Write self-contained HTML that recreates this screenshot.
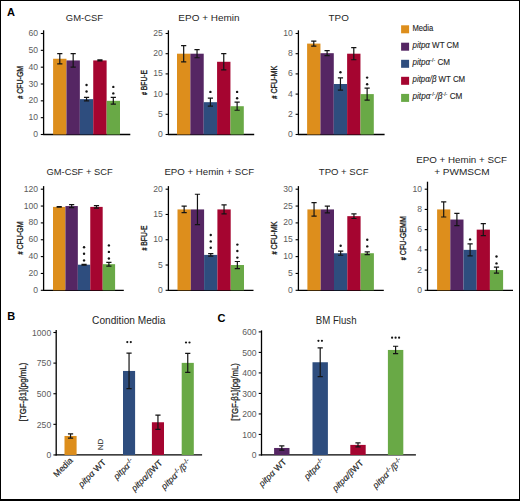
<!DOCTYPE html><html><head><meta charset="utf-8"><style>html,body{margin:0;padding:0;background:#fff;width:520px;height:501px;overflow:hidden}svg{display:block}text{font-family:"Liberation Sans",sans-serif}</style></head><body>
<svg width="520" height="501" viewBox="0 0 520 501">
<rect x="0" y="0" width="520" height="501" fill="#fff"/>
<text x="7" y="15.6" font-size="11" font-weight="bold" fill="#000">A</text>
<text x="7.3" y="320.2" font-size="11" font-weight="bold" fill="#000">B</text>
<text x="217.5" y="322" font-size="11" font-weight="bold" fill="#000">C</text>
<text x="65.85" y="21.1" font-size="9.9" fill="#262626" textLength="37.25" lengthAdjust="spacingAndGlyphs">GM-CSF</text>
<text x="178.35" y="21.1" font-size="9.9" fill="#262626" textLength="61.2" lengthAdjust="spacingAndGlyphs">EPO + Hemin</text>
<text x="328.6" y="21.1" font-size="9.9" fill="#262626" textLength="20.3" lengthAdjust="spacingAndGlyphs">TPO</text>
<text x="46.5" y="174.6" font-size="9.9" fill="#262626" textLength="66.1" lengthAdjust="spacingAndGlyphs">GM-CSF + SCF</text>
<text x="164.4" y="174.6" font-size="9.9" fill="#262626" textLength="89.7" lengthAdjust="spacingAndGlyphs">EPO + Hemin + SCF</text>
<text x="318.8" y="174.6" font-size="9.9" fill="#262626" textLength="49.7" lengthAdjust="spacingAndGlyphs">TPO + SCF</text>
<text x="416.2" y="163" font-size="9.9" fill="#262626" textLength="90.8" lengthAdjust="spacingAndGlyphs">EPO + Hemin + SCF</text>
<text x="434.2" y="174.5" font-size="9.9" fill="#262626" textLength="55.5" lengthAdjust="spacingAndGlyphs">+ PWMSCM</text>
<line x1="43.6" y1="30.3" x2="43.6" y2="135" stroke="#000" stroke-width="1.3"/>
<line x1="43.1" y1="134.5" x2="130.3" y2="134.5" stroke="#000" stroke-width="1.3"/>
<line x1="40.8" y1="134.5" x2="43.6" y2="134.5" stroke="#000" stroke-width="1.1"/>
<text x="38.1" y="137.05" text-anchor="end" font-size="8.6" fill="#5c5c5c">0</text>
<line x1="40.8" y1="117.67" x2="43.6" y2="117.67" stroke="#000" stroke-width="1.1"/>
<text x="38.1" y="120.22" text-anchor="end" font-size="8.6" fill="#5c5c5c">10</text>
<line x1="40.8" y1="100.83" x2="43.6" y2="100.83" stroke="#000" stroke-width="1.1"/>
<text x="38.1" y="103.38" text-anchor="end" font-size="8.6" fill="#5c5c5c">20</text>
<line x1="40.8" y1="84" x2="43.6" y2="84" stroke="#000" stroke-width="1.1"/>
<text x="38.1" y="86.55" text-anchor="end" font-size="8.6" fill="#5c5c5c">30</text>
<line x1="40.8" y1="67.17" x2="43.6" y2="67.17" stroke="#000" stroke-width="1.1"/>
<text x="38.1" y="69.72" text-anchor="end" font-size="8.6" fill="#5c5c5c">40</text>
<line x1="40.8" y1="50.33" x2="43.6" y2="50.33" stroke="#000" stroke-width="1.1"/>
<text x="38.1" y="52.88" text-anchor="end" font-size="8.6" fill="#5c5c5c">50</text>
<line x1="40.8" y1="33.5" x2="43.6" y2="33.5" stroke="#000" stroke-width="1.1"/>
<text x="38.1" y="36.05" text-anchor="end" font-size="8.6" fill="#5c5c5c">60</text>
<rect x="53.1" y="58.75" width="13.38" height="75.75" fill="#DD8E1C"/>
<rect x="66.48" y="60.43" width="13.38" height="74.07" fill="#552663"/>
<rect x="79.86" y="99.15" width="13.38" height="35.35" fill="#2E4D7E"/>
<rect x="93.24" y="60.43" width="13.38" height="74.07" fill="#A50530"/>
<rect x="106.62" y="100.83" width="13.38" height="33.67" fill="#69A946"/>
<path d="M59.79 53.7V63.8M57.19 53.7H62.39M57.19 63.8H62.39" stroke="#141414" stroke-width="1.2" fill="none"/>
<path d="M73.17 53.7V67.17M70.57 53.7H75.77M70.57 67.17H75.77" stroke="#141414" stroke-width="1.2" fill="none"/>
<path d="M86.55 97.47V100.83M83.95 97.47H89.15M83.95 100.83H89.15" stroke="#141414" stroke-width="1.2" fill="none"/>
<circle cx="86.55" cy="85" r="1.2" fill="#151515"/>
<circle cx="86.55" cy="91.5" r="1.2" fill="#151515"/>
<path d="M99.93 59.93V60.94M97.33 59.93H102.53M97.33 60.94H102.53" stroke="#141414" stroke-width="1.2" fill="none"/>
<path d="M113.31 97.47V104.2M110.71 97.47H115.91M110.71 104.2H115.91" stroke="#141414" stroke-width="1.2" fill="none"/>
<circle cx="113.31" cy="86.9" r="1.2" fill="#151515"/>
<circle cx="113.31" cy="93.4" r="1.2" fill="#151515"/>
<text x="0" y="0" transform="translate(20,82.3) rotate(-90)" text-anchor="middle" font-size="8.8" fill="#222" stroke="#222" stroke-width="0.35" textLength="33" lengthAdjust="spacingAndGlyphs" dominant-baseline="central"><tspan font-size="6.8">#</tspan> CFU-GM</text>
<line x1="168.4" y1="30.3" x2="168.4" y2="135" stroke="#000" stroke-width="1.3"/>
<line x1="167.9" y1="134.5" x2="254.2" y2="134.5" stroke="#000" stroke-width="1.3"/>
<line x1="165.6" y1="134.5" x2="168.4" y2="134.5" stroke="#000" stroke-width="1.1"/>
<text x="162.9" y="137.05" text-anchor="end" font-size="8.6" fill="#5c5c5c">0</text>
<line x1="165.6" y1="114.3" x2="168.4" y2="114.3" stroke="#000" stroke-width="1.1"/>
<text x="162.9" y="116.85" text-anchor="end" font-size="8.6" fill="#5c5c5c">5</text>
<line x1="165.6" y1="94.1" x2="168.4" y2="94.1" stroke="#000" stroke-width="1.1"/>
<text x="162.9" y="96.65" text-anchor="end" font-size="8.6" fill="#5c5c5c">10</text>
<line x1="165.6" y1="73.9" x2="168.4" y2="73.9" stroke="#000" stroke-width="1.1"/>
<text x="162.9" y="76.45" text-anchor="end" font-size="8.6" fill="#5c5c5c">15</text>
<line x1="165.6" y1="53.7" x2="168.4" y2="53.7" stroke="#000" stroke-width="1.1"/>
<text x="162.9" y="56.25" text-anchor="end" font-size="8.6" fill="#5c5c5c">20</text>
<line x1="165.6" y1="33.5" x2="168.4" y2="33.5" stroke="#000" stroke-width="1.1"/>
<text x="162.9" y="36.05" text-anchor="end" font-size="8.6" fill="#5c5c5c">25</text>
<rect x="177" y="53.7" width="13.36" height="80.8" fill="#DD8E1C"/>
<rect x="190.36" y="53.7" width="13.36" height="80.8" fill="#552663"/>
<rect x="203.72" y="102.18" width="13.36" height="32.32" fill="#2E4D7E"/>
<rect x="217.08" y="61.78" width="13.36" height="72.72" fill="#A50530"/>
<rect x="230.44" y="106.22" width="13.36" height="28.28" fill="#69A946"/>
<path d="M183.68 45.62V61.78M181.08 45.62H186.28M181.08 61.78H186.28" stroke="#141414" stroke-width="1.2" fill="none"/>
<path d="M197.04 49.66V57.74M194.44 49.66H199.64M194.44 57.74H199.64" stroke="#141414" stroke-width="1.2" fill="none"/>
<path d="M210.4 98.14V106.22M207.8 98.14H213M207.8 106.22H213" stroke="#141414" stroke-width="1.2" fill="none"/>
<circle cx="210.4" cy="91.9" r="1.2" fill="#151515"/>
<path d="M223.76 53.7V69.86M221.16 53.7H226.36M221.16 69.86H226.36" stroke="#141414" stroke-width="1.2" fill="none"/>
<path d="M237.12 102.18V110.26M234.52 102.18H239.72M234.52 110.26H239.72" stroke="#141414" stroke-width="1.2" fill="none"/>
<circle cx="237.12" cy="91.9" r="1.2" fill="#151515"/>
<circle cx="237.12" cy="98.3" r="1.2" fill="#151515"/>
<text x="0" y="0" transform="translate(144.3,82.5) rotate(-90)" text-anchor="middle" font-size="8.8" fill="#222" stroke="#222" stroke-width="0.35" textLength="25" lengthAdjust="spacingAndGlyphs" dominant-baseline="central"><tspan font-size="6.8">#</tspan> BFU-E</text>
<line x1="298.4" y1="30.3" x2="298.4" y2="135" stroke="#000" stroke-width="1.3"/>
<line x1="297.9" y1="134.5" x2="384.6" y2="134.5" stroke="#000" stroke-width="1.3"/>
<line x1="295.6" y1="134.5" x2="298.4" y2="134.5" stroke="#000" stroke-width="1.1"/>
<text x="292.9" y="137.05" text-anchor="end" font-size="8.6" fill="#5c5c5c">0</text>
<line x1="295.6" y1="114.3" x2="298.4" y2="114.3" stroke="#000" stroke-width="1.1"/>
<text x="292.9" y="116.85" text-anchor="end" font-size="8.6" fill="#5c5c5c">2</text>
<line x1="295.6" y1="94.1" x2="298.4" y2="94.1" stroke="#000" stroke-width="1.1"/>
<text x="292.9" y="96.65" text-anchor="end" font-size="8.6" fill="#5c5c5c">4</text>
<line x1="295.6" y1="73.9" x2="298.4" y2="73.9" stroke="#000" stroke-width="1.1"/>
<text x="292.9" y="76.45" text-anchor="end" font-size="8.6" fill="#5c5c5c">6</text>
<line x1="295.6" y1="53.7" x2="298.4" y2="53.7" stroke="#000" stroke-width="1.1"/>
<text x="292.9" y="56.25" text-anchor="end" font-size="8.6" fill="#5c5c5c">8</text>
<line x1="295.6" y1="33.5" x2="298.4" y2="33.5" stroke="#000" stroke-width="1.1"/>
<text x="292.9" y="36.05" text-anchor="end" font-size="8.6" fill="#5c5c5c">10</text>
<rect x="307.1" y="43.6" width="13.34" height="90.9" fill="#DD8E1C"/>
<rect x="320.44" y="53.19" width="13.34" height="81.31" fill="#552663"/>
<rect x="333.78" y="84" width="13.34" height="50.5" fill="#2E4D7E"/>
<rect x="347.12" y="53.7" width="13.34" height="80.8" fill="#A50530"/>
<rect x="360.46" y="94.1" width="13.34" height="40.4" fill="#69A946"/>
<path d="M313.77 41.08V46.13M311.17 41.08H316.37M311.17 46.13H316.37" stroke="#141414" stroke-width="1.2" fill="none"/>
<path d="M327.11 50.67V55.72M324.51 50.67H329.71M324.51 55.72H329.71" stroke="#141414" stroke-width="1.2" fill="none"/>
<path d="M340.45 77.94V90.06M337.85 77.94H343.05M337.85 90.06H343.05" stroke="#141414" stroke-width="1.2" fill="none"/>
<circle cx="340.45" cy="72.3" r="1.2" fill="#151515"/>
<path d="M353.79 47.64V59.76M351.19 47.64H356.39M351.19 59.76H356.39" stroke="#141414" stroke-width="1.2" fill="none"/>
<path d="M367.13 88.04V100.16M364.53 88.04H369.73M364.53 100.16H369.73" stroke="#141414" stroke-width="1.2" fill="none"/>
<circle cx="367.13" cy="77.6" r="1.2" fill="#151515"/>
<circle cx="367.13" cy="84.3" r="1.2" fill="#151515"/>
<text x="0" y="0" transform="translate(274.3,82.2) rotate(-90)" text-anchor="middle" font-size="8.8" fill="#222" stroke="#222" stroke-width="0.35" textLength="33" lengthAdjust="spacingAndGlyphs" dominant-baseline="central"><tspan font-size="6.8">#</tspan> CFU-MK</text>
<line x1="43.6" y1="186.1" x2="43.6" y2="290.8" stroke="#000" stroke-width="1.3"/>
<line x1="43.1" y1="290.3" x2="123.8" y2="290.3" stroke="#000" stroke-width="1.3"/>
<line x1="40.8" y1="290.3" x2="43.6" y2="290.3" stroke="#000" stroke-width="1.1"/>
<text x="38.1" y="292.85" text-anchor="end" font-size="8.6" fill="#5c5c5c">0</text>
<line x1="40.8" y1="273.45" x2="43.6" y2="273.45" stroke="#000" stroke-width="1.1"/>
<text x="38.1" y="276" text-anchor="end" font-size="8.6" fill="#5c5c5c">20</text>
<line x1="40.8" y1="256.6" x2="43.6" y2="256.6" stroke="#000" stroke-width="1.1"/>
<text x="38.1" y="259.15" text-anchor="end" font-size="8.6" fill="#5c5c5c">40</text>
<line x1="40.8" y1="239.75" x2="43.6" y2="239.75" stroke="#000" stroke-width="1.1"/>
<text x="38.1" y="242.3" text-anchor="end" font-size="8.6" fill="#5c5c5c">60</text>
<line x1="40.8" y1="222.9" x2="43.6" y2="222.9" stroke="#000" stroke-width="1.1"/>
<text x="38.1" y="225.45" text-anchor="end" font-size="8.6" fill="#5c5c5c">80</text>
<line x1="40.8" y1="206.05" x2="43.6" y2="206.05" stroke="#000" stroke-width="1.1"/>
<text x="38.1" y="208.6" text-anchor="end" font-size="8.6" fill="#5c5c5c">100</text>
<line x1="40.8" y1="189.2" x2="43.6" y2="189.2" stroke="#000" stroke-width="1.1"/>
<text x="38.1" y="191.75" text-anchor="end" font-size="8.6" fill="#5c5c5c">120</text>
<rect x="53" y="206.89" width="12.42" height="83.41" fill="#DD8E1C"/>
<rect x="65.42" y="206.05" width="12.42" height="84.25" fill="#552663"/>
<rect x="77.84" y="264.69" width="12.42" height="25.61" fill="#2E4D7E"/>
<rect x="90.26" y="206.89" width="12.42" height="83.41" fill="#A50530"/>
<rect x="102.68" y="264.18" width="12.42" height="26.12" fill="#69A946"/>
<path d="M59.21 206.64V207.15M56.61 206.64H61.81M56.61 207.15H61.81" stroke="#141414" stroke-width="1.2" fill="none"/>
<path d="M71.63 204.53V207.57M69.03 204.53H74.23M69.03 207.57H74.23" stroke="#141414" stroke-width="1.2" fill="none"/>
<path d="M84.05 264.27V265.11M81.45 264.27H86.65M81.45 265.11H86.65" stroke="#141414" stroke-width="1.2" fill="none"/>
<circle cx="84.05" cy="247.2" r="1.2" fill="#151515"/>
<circle cx="84.05" cy="253.8" r="1.2" fill="#151515"/>
<circle cx="84.05" cy="260.4" r="1.2" fill="#151515"/>
<path d="M96.47 205.63V208.16M93.87 205.63H99.07M93.87 208.16H99.07" stroke="#141414" stroke-width="1.2" fill="none"/>
<path d="M108.89 262.33V266.04M106.29 262.33H111.49M106.29 266.04H111.49" stroke="#141414" stroke-width="1.2" fill="none"/>
<circle cx="108.89" cy="245.4" r="1.2" fill="#151515"/>
<circle cx="108.89" cy="251.9" r="1.2" fill="#151515"/>
<circle cx="108.89" cy="258.5" r="1.2" fill="#151515"/>
<text x="0" y="0" transform="translate(20,238) rotate(-90)" text-anchor="middle" font-size="8.8" fill="#222" stroke="#222" stroke-width="0.35" textLength="33" lengthAdjust="spacingAndGlyphs" dominant-baseline="central"><tspan font-size="6.8">#</tspan> CFU-GM</text>
<line x1="168.4" y1="186.1" x2="168.4" y2="290.8" stroke="#000" stroke-width="1.3"/>
<line x1="167.9" y1="290.3" x2="253.5" y2="290.3" stroke="#000" stroke-width="1.3"/>
<line x1="165.6" y1="290.3" x2="168.4" y2="290.3" stroke="#000" stroke-width="1.1"/>
<text x="162.9" y="292.85" text-anchor="end" font-size="8.6" fill="#5c5c5c">0</text>
<line x1="165.6" y1="265.02" x2="168.4" y2="265.02" stroke="#000" stroke-width="1.1"/>
<text x="162.9" y="267.57" text-anchor="end" font-size="8.6" fill="#5c5c5c">5</text>
<line x1="165.6" y1="239.75" x2="168.4" y2="239.75" stroke="#000" stroke-width="1.1"/>
<text x="162.9" y="242.3" text-anchor="end" font-size="8.6" fill="#5c5c5c">10</text>
<line x1="165.6" y1="214.47" x2="168.4" y2="214.47" stroke="#000" stroke-width="1.1"/>
<text x="162.9" y="217.03" text-anchor="end" font-size="8.6" fill="#5c5c5c">15</text>
<line x1="165.6" y1="189.2" x2="168.4" y2="189.2" stroke="#000" stroke-width="1.1"/>
<text x="162.9" y="191.75" text-anchor="end" font-size="8.6" fill="#5c5c5c">20</text>
<rect x="177.5" y="209.42" width="13.3" height="80.88" fill="#DD8E1C"/>
<rect x="190.8" y="209.42" width="13.3" height="80.88" fill="#552663"/>
<rect x="204.1" y="254.91" width="13.3" height="35.39" fill="#2E4D7E"/>
<rect x="217.4" y="209.42" width="13.3" height="80.88" fill="#A50530"/>
<rect x="230.7" y="265.02" width="13.3" height="25.28" fill="#69A946"/>
<path d="M184.15 206.13V212.71M181.55 206.13H186.75M181.55 212.71H186.75" stroke="#141414" stroke-width="1.2" fill="none"/>
<path d="M197.45 194.25V224.58M194.85 194.25H200.05M194.85 224.58H200.05" stroke="#141414" stroke-width="1.2" fill="none"/>
<path d="M210.75 253.65V256.18M208.15 253.65H213.35M208.15 256.18H213.35" stroke="#141414" stroke-width="1.2" fill="none"/>
<circle cx="210.75" cy="235" r="1.2" fill="#151515"/>
<circle cx="210.75" cy="241.4" r="1.2" fill="#151515"/>
<circle cx="210.75" cy="247.8" r="1.2" fill="#151515"/>
<path d="M224.05 204.87V213.97M221.45 204.87H226.65M221.45 213.97H226.65" stroke="#141414" stroke-width="1.2" fill="none"/>
<path d="M237.35 261.49V268.56M234.75 261.49H239.95M234.75 268.56H239.95" stroke="#141414" stroke-width="1.2" fill="none"/>
<circle cx="237.35" cy="244.6" r="1.2" fill="#151515"/>
<circle cx="237.35" cy="251" r="1.2" fill="#151515"/>
<circle cx="237.35" cy="257.6" r="1.2" fill="#151515"/>
<text x="0" y="0" transform="translate(144.3,238) rotate(-90)" text-anchor="middle" font-size="8.8" fill="#222" stroke="#222" stroke-width="0.35" textLength="25" lengthAdjust="spacingAndGlyphs" dominant-baseline="central"><tspan font-size="6.8">#</tspan> BFU-E</text>
<line x1="298.4" y1="186.1" x2="298.4" y2="290.8" stroke="#000" stroke-width="1.3"/>
<line x1="297.9" y1="290.3" x2="383.8" y2="290.3" stroke="#000" stroke-width="1.3"/>
<line x1="295.6" y1="290.3" x2="298.4" y2="290.3" stroke="#000" stroke-width="1.1"/>
<text x="292.9" y="292.85" text-anchor="end" font-size="8.6" fill="#5c5c5c">0</text>
<line x1="295.6" y1="273.45" x2="298.4" y2="273.45" stroke="#000" stroke-width="1.1"/>
<text x="292.9" y="276" text-anchor="end" font-size="8.6" fill="#5c5c5c">5</text>
<line x1="295.6" y1="256.6" x2="298.4" y2="256.6" stroke="#000" stroke-width="1.1"/>
<text x="292.9" y="259.15" text-anchor="end" font-size="8.6" fill="#5c5c5c">10</text>
<line x1="295.6" y1="239.75" x2="298.4" y2="239.75" stroke="#000" stroke-width="1.1"/>
<text x="292.9" y="242.3" text-anchor="end" font-size="8.6" fill="#5c5c5c">15</text>
<line x1="295.6" y1="222.9" x2="298.4" y2="222.9" stroke="#000" stroke-width="1.1"/>
<text x="292.9" y="225.45" text-anchor="end" font-size="8.6" fill="#5c5c5c">20</text>
<line x1="295.6" y1="206.05" x2="298.4" y2="206.05" stroke="#000" stroke-width="1.1"/>
<text x="292.9" y="208.6" text-anchor="end" font-size="8.6" fill="#5c5c5c">25</text>
<line x1="295.6" y1="189.2" x2="298.4" y2="189.2" stroke="#000" stroke-width="1.1"/>
<text x="292.9" y="191.75" text-anchor="end" font-size="8.6" fill="#5c5c5c">30</text>
<rect x="307.4" y="209.42" width="13.3" height="80.88" fill="#DD8E1C"/>
<rect x="320.7" y="209.42" width="13.3" height="80.88" fill="#552663"/>
<rect x="334" y="253.23" width="13.3" height="37.07" fill="#2E4D7E"/>
<rect x="347.3" y="216.16" width="13.3" height="74.14" fill="#A50530"/>
<rect x="360.6" y="253.23" width="13.3" height="37.07" fill="#69A946"/>
<path d="M314.05 202.68V216.16M311.45 202.68H316.65M311.45 216.16H316.65" stroke="#141414" stroke-width="1.2" fill="none"/>
<path d="M327.35 206.05V212.79M324.75 206.05H329.95M324.75 212.79H329.95" stroke="#141414" stroke-width="1.2" fill="none"/>
<path d="M340.65 251.21V255.25M338.05 251.21H343.25M338.05 255.25H343.25" stroke="#141414" stroke-width="1.2" fill="none"/>
<circle cx="340.65" cy="245.8" r="1.2" fill="#151515"/>
<path d="M353.95 213.8V218.52M351.35 213.8H356.55M351.35 218.52H356.55" stroke="#141414" stroke-width="1.2" fill="none"/>
<path d="M367.25 251.88V254.58M364.65 251.88H369.85M364.65 254.58H369.85" stroke="#141414" stroke-width="1.2" fill="none"/>
<circle cx="367.25" cy="239.7" r="1.2" fill="#151515"/>
<circle cx="367.25" cy="246.4" r="1.2" fill="#151515"/>
<text x="0" y="0" transform="translate(274.3,238) rotate(-90)" text-anchor="middle" font-size="8.8" fill="#222" stroke="#222" stroke-width="0.35" textLength="33" lengthAdjust="spacingAndGlyphs" dominant-baseline="central"><tspan font-size="6.8">#</tspan> CFU-MK</text>
<line x1="427.5" y1="181.7" x2="427.5" y2="290.8" stroke="#000" stroke-width="1.3"/>
<line x1="427" y1="290.3" x2="513" y2="290.3" stroke="#000" stroke-width="1.3"/>
<line x1="424.7" y1="290.3" x2="427.5" y2="290.3" stroke="#000" stroke-width="1.1"/>
<text x="422" y="292.85" text-anchor="end" font-size="8.6" fill="#5c5c5c">0</text>
<line x1="424.7" y1="270.08" x2="427.5" y2="270.08" stroke="#000" stroke-width="1.1"/>
<text x="422" y="272.63" text-anchor="end" font-size="8.6" fill="#5c5c5c">2</text>
<line x1="424.7" y1="249.86" x2="427.5" y2="249.86" stroke="#000" stroke-width="1.1"/>
<text x="422" y="252.41" text-anchor="end" font-size="8.6" fill="#5c5c5c">4</text>
<line x1="424.7" y1="229.64" x2="427.5" y2="229.64" stroke="#000" stroke-width="1.1"/>
<text x="422" y="232.19" text-anchor="end" font-size="8.6" fill="#5c5c5c">6</text>
<line x1="424.7" y1="209.42" x2="427.5" y2="209.42" stroke="#000" stroke-width="1.1"/>
<text x="422" y="211.97" text-anchor="end" font-size="8.6" fill="#5c5c5c">8</text>
<line x1="424.7" y1="189.2" x2="427.5" y2="189.2" stroke="#000" stroke-width="1.1"/>
<text x="422" y="191.75" text-anchor="end" font-size="8.6" fill="#5c5c5c">10</text>
<rect x="437.1" y="209.42" width="13.2" height="80.88" fill="#DD8E1C"/>
<rect x="450.3" y="219.53" width="13.2" height="70.77" fill="#552663"/>
<rect x="463.5" y="249.86" width="13.2" height="40.44" fill="#2E4D7E"/>
<rect x="476.7" y="229.64" width="13.2" height="60.66" fill="#A50530"/>
<rect x="489.9" y="270.08" width="13.2" height="20.22" fill="#69A946"/>
<path d="M443.7 201.84V217M441.1 201.84H446.3M441.1 217H446.3" stroke="#141414" stroke-width="1.2" fill="none"/>
<path d="M456.9 213.46V225.6M454.3 213.46H459.5M454.3 225.6H459.5" stroke="#141414" stroke-width="1.2" fill="none"/>
<path d="M470.1 243.79V255.93M467.5 243.79H472.7M467.5 255.93H472.7" stroke="#141414" stroke-width="1.2" fill="none"/>
<circle cx="470.1" cy="239.4" r="1.2" fill="#151515"/>
<path d="M483.3 223.57V235.71M480.7 223.57H485.9M480.7 235.71H485.9" stroke="#141414" stroke-width="1.2" fill="none"/>
<path d="M496.5 267.05V273.11M493.9 267.05H499.1M493.9 273.11H499.1" stroke="#141414" stroke-width="1.2" fill="none"/>
<circle cx="496.5" cy="256.5" r="1.2" fill="#151515"/>
<circle cx="496.5" cy="263.4" r="1.2" fill="#151515"/>
<text x="0" y="0" transform="translate(403.4,238.2) rotate(-90)" text-anchor="middle" font-size="8.8" fill="#222" stroke="#222" stroke-width="0.35" textLength="44" lengthAdjust="spacingAndGlyphs" dominant-baseline="central"><tspan font-size="6.8">#</tspan> CFU-GEMM</text>
<rect x="401.1" y="25.3" width="8" height="8" fill="#DD8E1C"/>
<text x="412.5" y="31.3" font-size="8.6" fill="#1e1e1e" stroke="#1e1e1e" stroke-width="0.12" textLength="20.8" lengthAdjust="spacingAndGlyphs">Media</text>
<rect x="401.1" y="42.7" width="8" height="8" fill="#552663"/>
<text x="412.5" y="48" font-size="8.6" fill="#1e1e1e" stroke="#1e1e1e" stroke-width="0.12" textLength="46.5" lengthAdjust="spacingAndGlyphs"><tspan font-style="italic">pitpα</tspan> WT CM</text>
<rect x="401.1" y="59.8" width="8" height="8" fill="#2E4D7E"/>
<text x="412.5" y="65.1" font-size="8.6" fill="#1e1e1e" stroke="#1e1e1e" stroke-width="0.12" textLength="37.5" lengthAdjust="spacingAndGlyphs"><tspan font-style="italic">pitpα</tspan><tspan font-size="5.6" baseline-shift="3.4">-/-</tspan> CM</text>
<rect x="401.1" y="76.8" width="8" height="8" fill="#A50530"/>
<text x="412.5" y="82.1" font-size="8.6" fill="#1e1e1e" stroke="#1e1e1e" stroke-width="0.12" textLength="52.7" lengthAdjust="spacingAndGlyphs"><tspan font-style="italic">pitpα/β</tspan> WT CM</text>
<rect x="401.1" y="93.9" width="8" height="8" fill="#69A946"/>
<text x="412.5" y="99.2" font-size="8.6" fill="#1e1e1e" stroke="#1e1e1e" stroke-width="0.12" textLength="49.9" lengthAdjust="spacingAndGlyphs"><tspan font-style="italic">pitpα</tspan><tspan font-size="5.6" baseline-shift="3.4">-/-</tspan><tspan font-style="italic">/β</tspan><tspan font-size="5.6" baseline-shift="3.4">-/-</tspan> CM</text>
<text x="92.1" y="323.6" font-size="10.2" fill="#262626" textLength="73.3" lengthAdjust="spacingAndGlyphs">Condition Media</text>
<text x="315.8" y="323.5" font-size="10.2" fill="#262626" textLength="40.7" lengthAdjust="spacingAndGlyphs">BM Flush</text>
<line x1="56.2" y1="330" x2="56.2" y2="455.45" stroke="#000" stroke-width="1.3"/>
<line x1="55.7" y1="454.95" x2="202.1" y2="454.95" stroke="#000" stroke-width="1.3"/>
<line x1="53.4" y1="454.95" x2="56.2" y2="454.95" stroke="#000" stroke-width="1.1"/>
<text x="51.2" y="458.25" text-anchor="end" font-size="8.6" fill="#5c5c5c">0</text>
<line x1="53.4" y1="424.34" x2="56.2" y2="424.34" stroke="#000" stroke-width="1.1"/>
<text x="51.2" y="427.64" text-anchor="end" font-size="8.6" fill="#5c5c5c">250</text>
<line x1="53.4" y1="393.73" x2="56.2" y2="393.73" stroke="#000" stroke-width="1.1"/>
<text x="51.2" y="397.03" text-anchor="end" font-size="8.6" fill="#5c5c5c">500</text>
<line x1="53.4" y1="363.11" x2="56.2" y2="363.11" stroke="#000" stroke-width="1.1"/>
<text x="51.2" y="366.41" text-anchor="end" font-size="8.6" fill="#5c5c5c">750</text>
<line x1="53.4" y1="332.5" x2="56.2" y2="332.5" stroke="#000" stroke-width="1.1"/>
<text x="51.2" y="335.8" text-anchor="end" font-size="8.6" fill="#5c5c5c">1000</text>
<rect x="64.5" y="435.97" width="12.1" height="18.98" fill="#DD8E1C"/>
<rect x="123" y="370.95" width="12.1" height="84" fill="#2E4D7E"/>
<rect x="151.9" y="422.26" width="12.1" height="32.69" fill="#A50530"/>
<rect x="181.7" y="362.87" width="12.1" height="92.08" fill="#69A946"/>
<path d="M70.55 433.89V438.05M67.95 433.89H73.15M67.95 438.05H73.15" stroke="#141414" stroke-width="1.2" fill="none"/>
<path d="M129.05 353.19V388.7M126.45 353.19H131.65M126.45 388.7H131.65" stroke="#141414" stroke-width="1.2" fill="none"/>
<circle cx="127.3" cy="342.1" r="1.1" fill="#151515"/>
<circle cx="130.8" cy="342.1" r="1.1" fill="#151515"/>
<path d="M157.95 415.15V429.36M155.35 415.15H160.55M155.35 429.36H160.55" stroke="#141414" stroke-width="1.2" fill="none"/>
<path d="M187.75 353.32V372.42M185.15 353.32H190.35M185.15 372.42H190.35" stroke="#141414" stroke-width="1.2" fill="none"/>
<circle cx="186" cy="342.5" r="1.1" fill="#151515"/>
<circle cx="189.5" cy="342.5" r="1.1" fill="#151515"/>
<text x="0" y="0" transform="translate(22.4,392) rotate(-90)" text-anchor="middle" font-size="9.6" fill="#222" stroke="#222" stroke-width="0.3" textLength="58.6" lengthAdjust="spacingAndGlyphs" dominant-baseline="central">[TGF-β1](pg/mL)</text>
<line x1="261.5" y1="330.4" x2="261.5" y2="455.45" stroke="#000" stroke-width="1.3"/>
<line x1="261" y1="454.95" x2="415.9" y2="454.95" stroke="#000" stroke-width="1.3"/>
<line x1="258.7" y1="454.95" x2="261.5" y2="454.95" stroke="#000" stroke-width="1.1"/>
<text x="256.5" y="458.25" text-anchor="end" font-size="8.6" fill="#5c5c5c">0</text>
<line x1="258.7" y1="434.44" x2="261.5" y2="434.44" stroke="#000" stroke-width="1.1"/>
<text x="256.5" y="437.74" text-anchor="end" font-size="8.6" fill="#5c5c5c">100</text>
<line x1="258.7" y1="413.93" x2="261.5" y2="413.93" stroke="#000" stroke-width="1.1"/>
<text x="256.5" y="417.23" text-anchor="end" font-size="8.6" fill="#5c5c5c">200</text>
<line x1="258.7" y1="393.43" x2="261.5" y2="393.43" stroke="#000" stroke-width="1.1"/>
<text x="256.5" y="396.73" text-anchor="end" font-size="8.6" fill="#5c5c5c">300</text>
<line x1="258.7" y1="372.92" x2="261.5" y2="372.92" stroke="#000" stroke-width="1.1"/>
<text x="256.5" y="376.22" text-anchor="end" font-size="8.6" fill="#5c5c5c">400</text>
<line x1="258.7" y1="352.41" x2="261.5" y2="352.41" stroke="#000" stroke-width="1.1"/>
<text x="256.5" y="355.71" text-anchor="end" font-size="8.6" fill="#5c5c5c">500</text>
<line x1="258.7" y1="331.9" x2="261.5" y2="331.9" stroke="#000" stroke-width="1.1"/>
<text x="256.5" y="335.2" text-anchor="end" font-size="8.6" fill="#5c5c5c">600</text>
<rect x="274.1" y="447.98" width="15.4" height="6.97" fill="#552663"/>
<rect x="312.5" y="362.25" width="15.4" height="92.7" fill="#2E4D7E"/>
<rect x="350.3" y="444.9" width="15.4" height="10.05" fill="#A50530"/>
<rect x="387.9" y="349.95" width="15.4" height="105" fill="#69A946"/>
<path d="M281.8 445.93V450.03M279.2 445.93H284.4M279.2 450.03H284.4" stroke="#141414" stroke-width="1.2" fill="none"/>
<path d="M320.2 347.9V376.61M317.6 347.9H322.8M317.6 376.61H322.8" stroke="#141414" stroke-width="1.2" fill="none"/>
<circle cx="318.45" cy="340.8" r="1.1" fill="#151515"/>
<circle cx="321.95" cy="340.8" r="1.1" fill="#151515"/>
<path d="M358 442.85V446.95M355.4 442.85H360.6M355.4 446.95H360.6" stroke="#141414" stroke-width="1.2" fill="none"/>
<path d="M395.6 346.26V353.64M393 346.26H398.2M393 353.64H398.2" stroke="#141414" stroke-width="1.2" fill="none"/>
<circle cx="392.1" cy="337.7" r="1.1" fill="#151515"/>
<circle cx="395.6" cy="337.7" r="1.1" fill="#151515"/>
<circle cx="399.1" cy="337.7" r="1.1" fill="#151515"/>
<text x="0" y="0" transform="translate(234.6,392) rotate(-90)" text-anchor="middle" font-size="9.6" fill="#222" stroke="#222" stroke-width="0.3" textLength="57.5" lengthAdjust="spacingAndGlyphs" dominant-baseline="central">[TGF-β1](pg/mL)</text>
<text x="0" y="0" transform="translate(100.4,444.4) rotate(-90)" text-anchor="middle" dominant-baseline="central" font-size="8" fill="#333" stroke="#333" stroke-width="0.1">ND</text>
<text x="0" y="0" transform="translate(73.5,461) rotate(-45)" text-anchor="end" font-size="8.7" fill="#222" stroke="#222" stroke-width="0.15">Media</text>
<text x="0" y="0" transform="translate(106.5,463) rotate(-45)" text-anchor="end" font-size="8.7" fill="#222" stroke="#222" stroke-width="0.15"><tspan font-style="italic">pitpα</tspan> WT</text>
<text x="0" y="0" transform="translate(134.5,462.5) rotate(-45)" text-anchor="end" font-size="8.7" fill="#222" stroke="#222" stroke-width="0.15"><tspan font-style="italic">pitpα</tspan><tspan font-size="6.2" baseline-shift="3.3">-/-</tspan></text>
<text x="0" y="0" transform="translate(163,463.5) rotate(-45)" text-anchor="end" font-size="8.7" fill="#222" stroke="#222" stroke-width="0.15"><tspan font-style="italic">pitpα/β</tspan>WT</text>
<text x="0" y="0" transform="translate(191.5,463) rotate(-45)" text-anchor="end" font-size="8.7" fill="#222" stroke="#222" stroke-width="0.15"><tspan font-style="italic">pitpα</tspan><tspan font-size="6.2" baseline-shift="3.3">-/-</tspan><tspan font-style="italic">/β</tspan><tspan font-size="6.2" baseline-shift="3.3">-/-</tspan></text>
<text x="0" y="0" transform="translate(287,462.5) rotate(-45)" text-anchor="end" font-size="8.7" fill="#222" stroke="#222" stroke-width="0.15"><tspan font-style="italic">pitpα</tspan> WT</text>
<text x="0" y="0" transform="translate(325,462.5) rotate(-45)" text-anchor="end" font-size="8.7" fill="#222" stroke="#222" stroke-width="0.15"><tspan font-style="italic">pitpα</tspan><tspan font-size="6.2" baseline-shift="3.3">-/-</tspan></text>
<text x="0" y="0" transform="translate(364,463.5) rotate(-45)" text-anchor="end" font-size="8.7" fill="#222" stroke="#222" stroke-width="0.15"><tspan font-style="italic">pitpα/β</tspan>WT</text>
<text x="0" y="0" transform="translate(403,462) rotate(-45)" text-anchor="end" font-size="8.7" fill="#222" stroke="#222" stroke-width="0.15"><tspan font-style="italic">pitpα</tspan><tspan font-size="6.2" baseline-shift="3.3">-/-</tspan><tspan font-style="italic">/β</tspan><tspan font-size="6.2" baseline-shift="3.3">-/-</tspan></text>
</svg>
<div style="position:absolute;left:0;top:0;width:520px;height:501px;box-sizing:border-box;border-top:1.3px solid #000;border-left:1px solid #000;border-right:1.6px solid #000;border-bottom:2px solid #000;pointer-events:none"></div>
</body></html>
